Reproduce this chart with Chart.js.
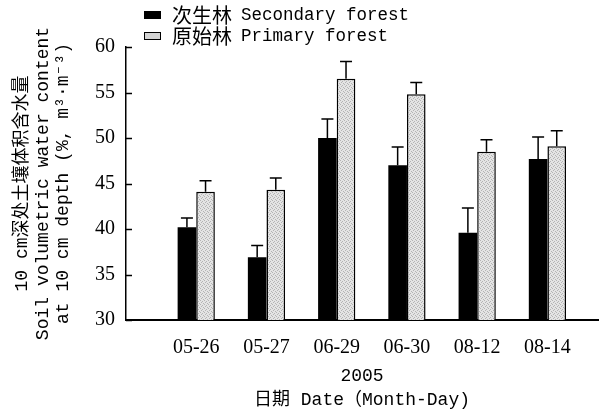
<!DOCTYPE html>
<html>
<head>
<meta charset="utf-8">
<script src="https://cdn.jsdelivr.net/npm/chart.js@4/dist/chart.umd.min.js"></script>
<style>
  body { margin: 0; background: #fff; }
  .wrap { position: relative; width: 606px; height: 415px; }
  .legend { position: absolute; left: 144px; top: 4px; font: 17.5px "Liberation Mono", "Noto Sans CJK SC", monospace; color: #000; }
  .legend-row { display: flex; align-items: center; height: 21px; }
  .swatch { width: 17px; height: 8px; margin-right: 11px; box-sizing: border-box; }
  .cjk { font-family: "Noto Sans CJK SC", sans-serif; font-size: 20px; margin-right: 9px; }
</style>
</head>
<body>
<div class="wrap">
  <canvas id="myChart" width="606" height="415"></canvas>
  <div class="legend">
    <div class="legend-row"><span class="swatch" style="background:#000"></span><span class="cjk">次生林</span>Secondary forest</div>
    <div class="legend-row"><span class="swatch" style="background:#d4d4d4;border:1px solid #000"></span><span class="cjk">原始林</span>Primary forest</div>
  </div>
</div>
<script>
const dates = ['05-26', '05-27', '06-29', '06-30', '08-12', '08-14'];
const secondary = [40.2, 36.9, 50.0, 47.0, 39.6, 47.7];
const secondaryErr = [1.0, 1.3, 2.1, 2.0, 2.7, 2.4];
const primary = [44.1, 44.3, 56.5, 54.8, 48.5, 49.1];
const primaryErr = [1.2, 1.3, 1.9, 1.3, 1.3, 1.7];
const yTicks = [30, 35, 40, 45, 50, 55, 60];

const ctx = document.getElementById('myChart').getContext('2d');
const monoFont = '"Liberation Mono", "Noto Sans CJK SC", monospace';

// light grey stipple like the scanned fill
function stipple() {
  const c = document.createElement('canvas');
  c.width = 4;
  c.height = 4;
  const g = c.getContext('2d');
  g.fillStyle = '#e4e4e4';
  g.fillRect(0, 0, 4, 4);
  g.fillStyle = '#b4b4b4';
  g.fillRect(0, 0, 1, 1);
  g.fillRect(2, 1, 1, 1);
  g.fillRect(1, 2, 1, 1);
  g.fillRect(3, 3, 1, 1);
  return g.createPattern(c, 'repeat');
}

const errorBars = {
  id: 'errorBars',
  afterDatasetsDraw(chart) {
    const c = chart.ctx;
    const y = chart.scales.y;
    c.save();
    c.strokeStyle = '#000';
    c.lineWidth = 1.5;
    chart.data.datasets.forEach((ds, di) => {
      chart.getDatasetMeta(di).data.forEach((bar, i) => {
        const top = y.getPixelForValue(ds.data[i].y + ds.err[i]);
        c.beginPath();
        c.moveTo(bar.x, bar.y);
        c.lineTo(bar.x, top);
        c.moveTo(bar.x - 6, top);
        c.lineTo(bar.x + 6, top);
        c.stroke();
      });
    });
    c.restore();
  }
};

// tick marks point into the plot
const innerTicks = {
  id: 'innerTicks',
  afterDraw(chart) {
    const c = chart.ctx;
    const y = chart.scales.y;
    c.save();
    c.strokeStyle = '#000';
    c.lineWidth = 1.5;
    y.ticks.forEach(t => {
      const py = Math.round(y.getPixelForValue(t.value)) + 0.5;
      c.beginPath();
      c.moveTo(y.right, py);
      c.lineTo(y.right + 6, py);
      c.stroke();
    });
    c.restore();
  }
};

new Chart(ctx, {
  type: 'bar',
  data: {
    datasets: [{
      label: 'Secondary forest',
      data: secondary.map((v, i) => ({ x: i + 1, y: v })),
      err: secondaryErr,
      backgroundColor: '#000',
      borderWidth: 0
    }, {
      label: 'Primary forest',
      data: primary.map((v, i) => ({ x: i + 1, y: v })),
      err: primaryErr,
      backgroundColor: stipple(),
      borderColor: '#000',
      borderWidth: 1.5,
      borderSkipped: 'bottom'
    }]
  },
  options: {
    responsive: false,
    animation: false,
    devicePixelRatio: 1,
    layout: { padding: { top: 47, right: 8, left: 0, bottom: 0 } },
    datasets: { bar: { categoryPercentage: 0.53, barPercentage: 1 } },
    plugins: { legend: { display: false }, tooltip: { enabled: false } },
    scales: {
      x: {
        type: 'linear',
        offset: false,
        min: 0,
        max: 6.72,
        afterFit: s => { s.height = 95; },
        afterBuildTicks: s => { s.ticks = dates.map((d, i) => ({ value: i + 1 })); },
        grid: { display: false, drawTicks: false, offset: false },
        border: { color: '#000', width: 2 },
        ticks: {
          callback: v => dates[v - 1],
          font: { family: '"Liberation Serif", serif', size: 20 },
          color: '#000',
          padding: 16,
          maxRotation: 0,
          autoSkip: false
        },
        title: {
          display: true,
          text: ['2005', '日期 Date（Month-Day)'],
          font: { family: monoFont, size: 18, lineHeight: 1.33 },
          color: '#000',
          padding: { top: 0, bottom: 3 }
        }
      },
      y: {
        min: 30,
        max: 60,
        afterFit: s => { s.width = 126; },
        afterBuildTicks: s => { s.ticks = yTicks.map(v => ({ value: v })); },
        grid: { display: false, drawTicks: false },
        border: { color: '#000', width: 1.5 },
        ticks: {
          font: { family: '"Liberation Serif", serif', size: 20 },
          color: '#000',
          padding: 11
        },
        title: {
          display: true,
          text: ['10 cm深处土壤体积含水量', 'Soil volumetric water content', 'at 10 cm depth (%, m³·m⁻³)'],
          font: { family: monoFont, size: 18, lineHeight: 1.14 },
          color: '#000',
          padding: { top: 12, bottom: 0 }
        }
      }
    }
  },
  plugins: [errorBars, innerTicks]
});
</script>
</body>
</html>
